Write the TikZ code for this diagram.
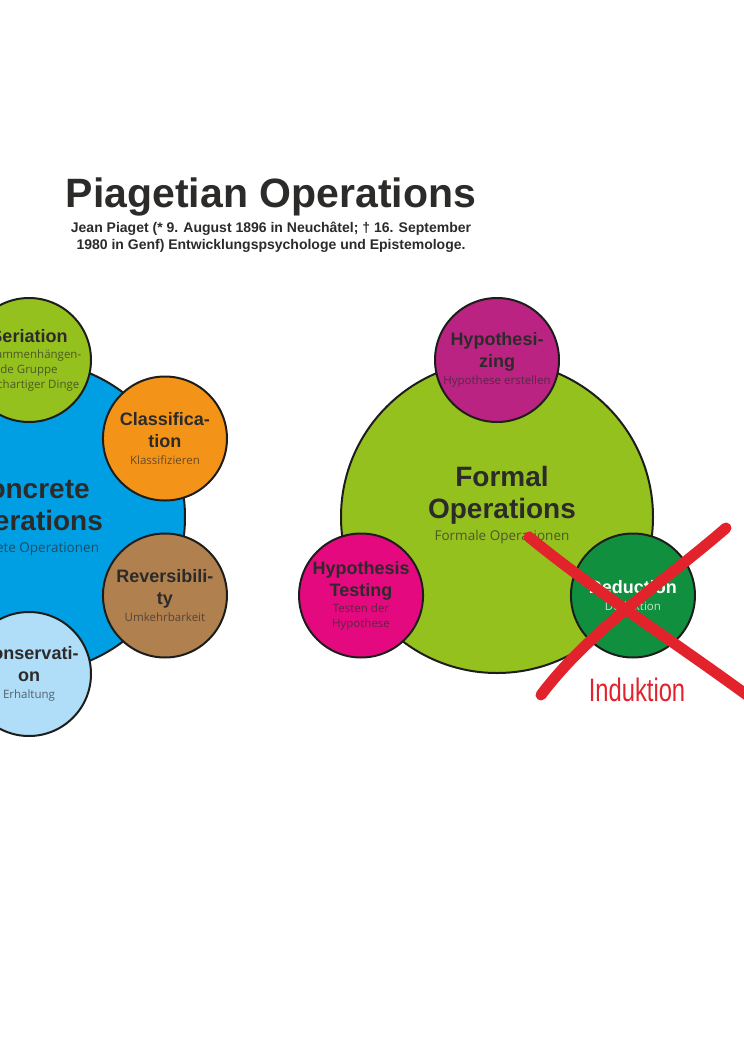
\documentclass[tikz,border=0pt]{standalone}
\usepackage{fontspec}
\setmainfont{Liberation Sans}
\newfontfamily\subfont{Open Sans}
\usepackage{tikz}
\usetikzlibrary{positioning}

\definecolor{cblue}{HTML}{009FE3}
\definecolor{cgreen}{HTML}{95C11F}
\definecolor{corange}{HTML}{F39419}
\definecolor{cbrown}{HTML}{B1804F}
\definecolor{clight}{HTML}{B0DDF7}
\definecolor{cpurple}{HTML}{BB2383}
\definecolor{cpink}{HTML}{E5097F}
\definecolor{cdark}{HTML}{10903E}
\definecolor{cred}{HTML}{E2232B}
\definecolor{cline}{HTML}{1D1D1B}
\definecolor{ctext}{HTML}{2C2B2A}

% switch for the German gloss lines
\newcommand{\gloss}[1]{\subfont\mdseries\fontsize{11.5}{13}\selectfont\color{#1}}
\newcommand{\biggloss}[1]{\subfont\mdseries\fontsize{13.5}{15}\selectfont\color{#1}}

\tikzset{
  bigtext/.style={align=center, text=ctext, font=\bfseries\fontsize{28}{32}\selectfont},
  bigop/.style={circle, draw=cline, line width=2pt, minimum size=312pt, inner sep=0pt, bigtext},
  smallop/.style={circle, draw=cline, line width=2pt, minimum size=124pt, inner sep=0pt,
    align=center, text=ctext, font=\bfseries\fontsize{18}{22}\selectfont},
  cross/.style={draw=cred, line width=11pt, line cap=round}
}

\begin{document}
\begin{tikzpicture}[x=1pt, y=-1pt]
  \useasboundingbox (0,0) rectangle (744,1052);
  \clip (0,0) rectangle (744,1052);

  % title
  \node[anchor=base, inner sep=0pt, text=ctext, font=\bfseries\fontsize{41}{48}\selectfont] (title) at (271,207) {Piagetian Operations};
  \node[below=6pt of title, inner sep=0pt, align=center, text=ctext, font=\bfseries\fontsize{14}{17}\selectfont] (life)
    {Jean Piaget (* 9. August 1896 in Neuchâtel; † 16. September\\1980 in Genf) Entwicklungspsychologe und Epistemologe.};

  % concrete
  \node[bigop, fill=cblue] (concrete) at (29,517) {Concrete\\Operations\\[-10pt]\biggloss{ctext!70!cblue}Konkrete Operationen};
  \node[smallop, fill=cgreen] (seriation) at (concrete.90)
    {Seriation\\[-6pt]\gloss{ctext!70!cgreen}Zusammenhängen-\\[-7pt]\gloss{ctext!70!cgreen}de Gruppe\\[-7pt]\gloss{ctext!70!cgreen}gleichartiger Dinge};
  \node[smallop, fill=corange] (classif) at (concrete.30) {Classifica-\\tion\\[-5pt]\gloss{ctext!70!corange}Klassifizieren};
  \node[smallop, fill=cbrown] (revers) at (concrete.-30) {Reversibili-\\ty\\[-5pt]\gloss{ctext!70!cbrown}Umkehrbarkeit};
  \node[smallop, fill=clight] (conserv) at (concrete.-90) {Conservati-\\on\\[-5pt]\gloss{ctext!70!clight}Erhaltung};

  % formal
  \node[bigop, fill=cgreen, label={[bigtext, xshift=5pt, yshift=12pt]center:Formal\\Operations\\[-10pt]\biggloss{ctext!70!cgreen}Formale Operationen}] (formal) at (497,517) {};
  \node[smallop, fill=cpurple] (hypsize) at (formal.90) {Hypothesi-\\zing\\[-5pt]\gloss{ctext!70!cpurple}Hypothese erstellen};
  \node[smallop, fill=cpink] (hyptest) at (formal.210)
    {Hypothesis\\Testing\\[-6pt]\gloss{ctext!70!cpink}Testen der\\[-7pt]\gloss{ctext!70!cpink}Hypothese};
  \node[smallop, fill=cdark, text=white] (deduct) at (formal.-30) {Deduction\\[-5pt]\gloss{white!75!cdark}Deduktion};

  % crossed out
  \draw[cross] (529,537) .. controls (600,595) and (680,645) .. (770,712);
  \draw[cross] (726,528) .. controls (660,585) and (590,630) .. (541,695);
  \node[text=cred, font=\fontsize{25}{30}\selectfont] (induct) at (637,690) {\scalebox{0.95}[1.3]{Induktion}};
\end{tikzpicture}
\end{document}
